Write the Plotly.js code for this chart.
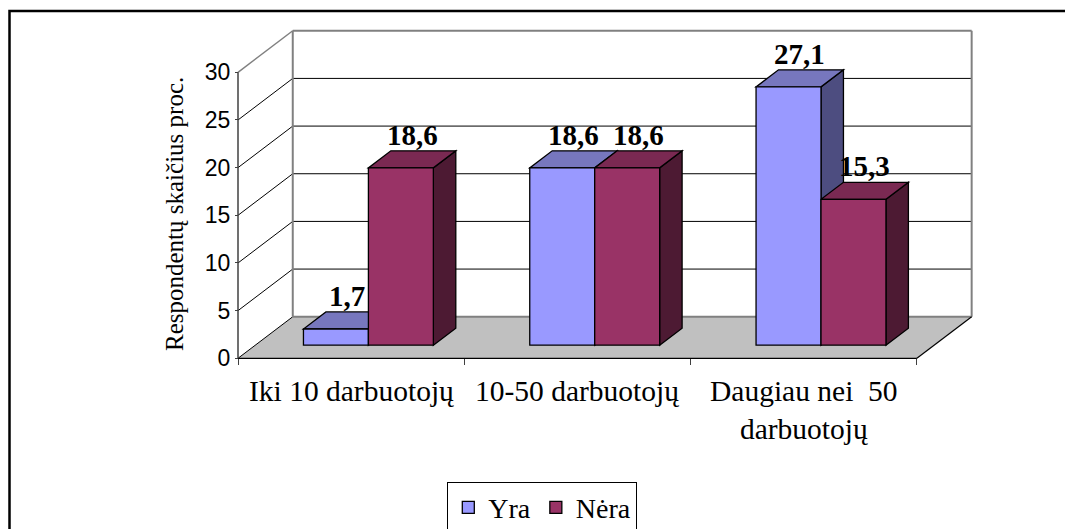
<!DOCTYPE html>
<html>
<head>
<meta charset="utf-8">
<script src="https://cdn.plot.ly/plotly-3.0.1.min.js"></script>
<style>
  html, body { margin: 0; padding: 0; background: #ffffff; }
  #chart { width: 1065px; height: 529px; }
</style>
</head>
<body>
<div id="chart"></div>
<script>
// ---- data ----
const categories = ['Iki 10 darbuotojų', '10-50 darbuotojų', 'Daugiau nei\u00a0 50<br>darbuotojų'];
const seriesNames = ['Yra', 'Nėra'];
const yraValues = [1.7, 18.6, 27.1];
const neraValues = [18.6, 18.6, 15.3];
const yTickValues = [0, 5, 10, 15, 20, 25, 30];
const axisTitle = 'Respondentų skaičius proc.';

// ---- styling / geometry settings ----
const W = 1065, H = 529;
const X0 = 238, PXC = 226.3;     // px of category boundary 0, px per category
const Y0 = 358.3, PXU = 9.533;   // px of value 0, px per value unit
const L = 232, R = 980, T = 26, B = 366; // plot area in px
const DX = 0.242, DY = 4.36;     // full depth offset (data units)
const F0 = 0.315, FB = 0.41;     // bar start depth fraction, bar depth fraction
const BW = 0.287;                // bar width (category units)
const yMax = 30;
const nCat = categories.length;

const SX = F0 * DX, SY = F0 * DY;   // bar front-face shift
const BDX = FB * DX, BDY = FB * DY; // bar depth

const xRange = [(L - X0) / PXC, (R - X0) / PXC];
const yRange = [(Y0 - B) / PXU, (Y0 - T) / PXU];
const px2paperX = p => (p - L) / (R - L);
const px2paperY = p => (B - p) / (B - T);

const colors = {
  yra: { front: '#9999FF', top: '#7777BE', side: '#4D4D80' },
  nera: { front: '#993366', top: '#7A2952', side: '#4D1A33' }
};
const GRAY = '#808080';
const SERIF = 'Liberation Serif, Times New Roman, serif';

const shapes = [];
function line(x0, y0, x1, y1, color, width) {
  shapes.push({ type: 'line', xref: 'x', yref: 'y', layer: 'below', x0, y0, x1, y1,
    line: { color, width } });
}
function poly(pts, fill, lineColor, lw) {
  const d = 'M ' + pts.map(p => p[0] + ',' + p[1]).join(' L ') + ' Z';
  shapes.push({ type: 'path', xref: 'x', yref: 'y', layer: 'below', path: d,
    fillcolor: fill, line: { color: lineColor, width: lw } });
}

// floor
poly([[0, 0], [nCat, 0], [nCat + DX, DY], [DX, DY]], '#C0C0C0', 'rgba(0,0,0,0)', 0);
// gridlines: diagonal on side + horizontal on back wall
yTickValues.forEach(v => {
  const edge = (v === yMax);
  line(0, v, DX, v + DY, edge ? GRAY : '#000000', edge ? 1.5 : 1);
  const backEdge = (v === 0 || v === yMax);
  line(DX, v + DY, nCat + DX, v + DY, backEdge ? GRAY : '#000000', backEdge ? 2 : 1);
});
// back wall vertical edges
line(DX, DY, DX, yMax + DY, GRAY, 2);
line(nCat + DX, DY, nCat + DX, yMax + DY, GRAY, 2);
// floor front & right edges
line(0, 0, nCat, 0, '#000000', 1.2);
line(nCat, 0, nCat + DX, DY, '#000000', 1.2);
// value axis line
line(0, 0, 0, yMax, '#404040', 1.5);

// bar side and top faces
const barX = { yra: [], nera: [] };
for (let i = 0; i < nCat; i++) {
  const c = i + 0.5 + SX;
  const items = [
    { key: 'yra', v: yraValues[i], xl: c - BW },
    { key: 'nera', v: neraValues[i], xl: c }
  ];
  items.forEach(it => {
    const xl = it.xl, xr = it.xl + BW, yt = SY + it.v;
    barX[it.key].push(xl + BW / 2);
    poly([[xr, SY], [xr + BDX, SY + BDY], [xr + BDX, yt + BDY], [xr, yt]], colors[it.key].side, '#000000', 1.3);
    poly([[xl, yt], [xr, yt], [xr + BDX, yt + BDY], [xl + BDX, yt + BDY]], colors[it.key].top, '#000000', 1.3);
  });
}

// frame
shapes.push({ type: 'rect', xref: 'paper', yref: 'paper', layer: 'above',
  x0: px2paperX(9.5), x1: px2paperX(1100), y0: px2paperY(600), y1: px2paperY(11),
  line: { color: '#000000', width: 2.5 }, fillcolor: 'rgba(0,0,0,0)' });

const traces = [
  { type: 'bar', name: seriesNames[0], x: barX.yra, y: yraValues, base: SY, width: BW,
    marker: { color: colors.yra.front, line: { color: '#000000', width: 1.3 } }, hoverinfo: 'y+name' },
  { type: 'bar', name: seriesNames[1], x: barX.nera, y: neraValues, base: SY, width: BW,
    marker: { color: colors.nera.front, line: { color: '#000000', width: 1.3 } }, hoverinfo: 'y+name' }
];

const fmt = v => String(v).replace('.', ',');
const annotations = [];
[['yra', yraValues], ['nera', neraValues]].forEach(([k, vals]) => {
  vals.forEach((v, i) => {
    annotations.push({ xref: 'x', yref: 'y', x: barX[k][i] + BDX / 2, y: SY + v + BDY,
      text: '<b>' + fmt(v) + '</b>', showarrow: false, xanchor: 'center', yanchor: 'bottom', yshift: -2,
      font: { family: SERIF, size: 29, color: '#000000' } });
  });
});
categories.forEach((c, i) => {
  annotations.push({ xref: 'x', yref: 'y', x: i + 0.5, y: 0, text: c, showarrow: false,
    xanchor: 'center', yanchor: 'top', yshift: -15, align: 'center',
    font: { family: SERIF, size: 29.5, color: '#000000' } });
});
annotations.push({ xref: 'paper', yref: 'paper', x: px2paperX(174), y: px2paperY(214),
  text: axisTitle, textangle: -90, showarrow: false, xanchor: 'center', yanchor: 'middle',
  font: { family: SERIF, size: 25, color: '#000000' } });

const layout = {
  width: W, height: H,
  margin: { l: L, r: W - R, t: T, b: H - B, pad: 0, autoexpand: false },
  paper_bgcolor: '#ffffff', plot_bgcolor: 'rgba(0,0,0,0)',
  barmode: 'overlay', showlegend: true,
  xaxis: { range: xRange, showgrid: false, zeroline: false, showline: false, automargin: false,
    tickmode: 'array', tickvals: [0, 1, 2, 3], ticks: 'outside', ticklen: 6, tickwidth: 1,
    tickcolor: '#404040', showticklabels: false, anchor: 'free', position: px2paperY(Y0), fixedrange: true },
  yaxis: { range: yRange, showgrid: false, zeroline: false, showline: false, automargin: false,
    tickmode: 'array', tickvals: yTickValues, ticks: 'outside', ticklen: 3, tickwidth: 1,
    tickcolor: '#404040', anchor: 'free', position: px2paperX(X0), fixedrange: true,
    tickfont: { family: 'Liberation Sans, Arial, sans-serif', size: 23, color: '#000000' } },
  legend: { orientation: 'h', x: px2paperX(447.3), y: px2paperY(481.7), xanchor: 'left', yanchor: 'top',
    bordercolor: '#000000', borderwidth: 1, bgcolor: '#ffffff', traceorder: 'normal',
    font: { family: SERIF, size: 28, color: '#000000' } },
  shapes, annotations
};

Plotly.newPlot('chart', traces, layout, { displayModeBar: false, staticPlot: true });
</script>
</body>
</html>
